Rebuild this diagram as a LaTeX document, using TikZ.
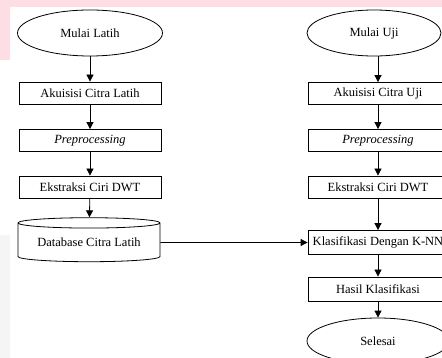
\documentclass[tikz,border=0pt]{standalone}
\usepackage{fontspec}
\setmainfont{Liberation Serif}
\usetikzlibrary{shapes.geometric,arrows.meta}
\definecolor{pinkband}{RGB}{252,222,228}
\definecolor{greystrip}{RGB}{245,245,245}
\tikzset{
	terminal/.style={draw,ellipse,minimum width=145pt,minimum height=46pt,inner sep=0pt},
	proses/.style={draw,rectangle,minimum width=142pt,minimum height=22pt,inner sep=1pt},
	basisdata/.style={draw,cylinder,shape border rotate=90,aspect=0.1,minimum width=142pt,minimum height=44pt,inner sep=0pt},
	panah/.style={-{Triangle[length=7pt,width=7pt]}}
}
\begin{document}
\begin{tikzpicture}[x=1pt,y=-1pt,line width=0.8pt,font=\fontsize{12.5}{14}\selectfont]
	\useasboundingbox (0,0) rectangle (442,358);
	\fill[pinkband] (0,0) rectangle (442,7) (0,0) rectangle (10,60);
	\fill[greystrip] (0,235) rectangle (10,358);
	% alur latih
	\node[terminal] (ml) at (90,33) {Mulai Latih};
	\node[proses] (al) at (90,93) {Akuisisi Citra Latih};
	\node[proses] (pl) at (90,140.5) {\textit{Preprocessing}};
	\node[proses] (el) at (90,187) {Ekstraksi Ciri DWT};
	\node[basisdata] (db) at (89,242.5) {Database Citra Latih};
	% alur uji
	\node[terminal,minimum width=134pt] (mu) at (374,33) {Mulai Uji};
	\node[proses,minimum width=140pt] (au) at (378,93.5) {Akuisisi Citra Uji};
	\node[proses,minimum width=140pt] (pu) at (378,140.5) {\textit{Preprocessing}};
	\node[proses,minimum width=140pt] (eu) at (378,187) {Ekstraksi Ciri DWT};
	\node[proses,minimum width=140pt,minimum height=24pt] (kl) at (378,242.5) {Klasifikasi Dengan K-NN};
	\node[proses,minimum width=140pt,minimum height=24pt] (hk) at (378,289) {Hasil Klasifikasi};
	\node[terminal,minimum width=142pt] (sl) at (378,341) {Selesai};
	\draw[panah] (ml)--(al);
	\draw[panah] (al)--(pl);
	\draw[panah] (pl)--(el);
	\draw[panah] (el)--(db);
	\draw[panah] (mu.south -| au.north)--(au);
	\draw[panah] (au)--(pu);
	\draw[panah] (pu)--(eu);
	\draw[panah] (eu)--(kl);
	\draw[panah] (db)--(kl);
	\draw[panah] (kl)--(hk);
	\draw[panah] (hk)--(sl);
\end{tikzpicture}
\end{document}
